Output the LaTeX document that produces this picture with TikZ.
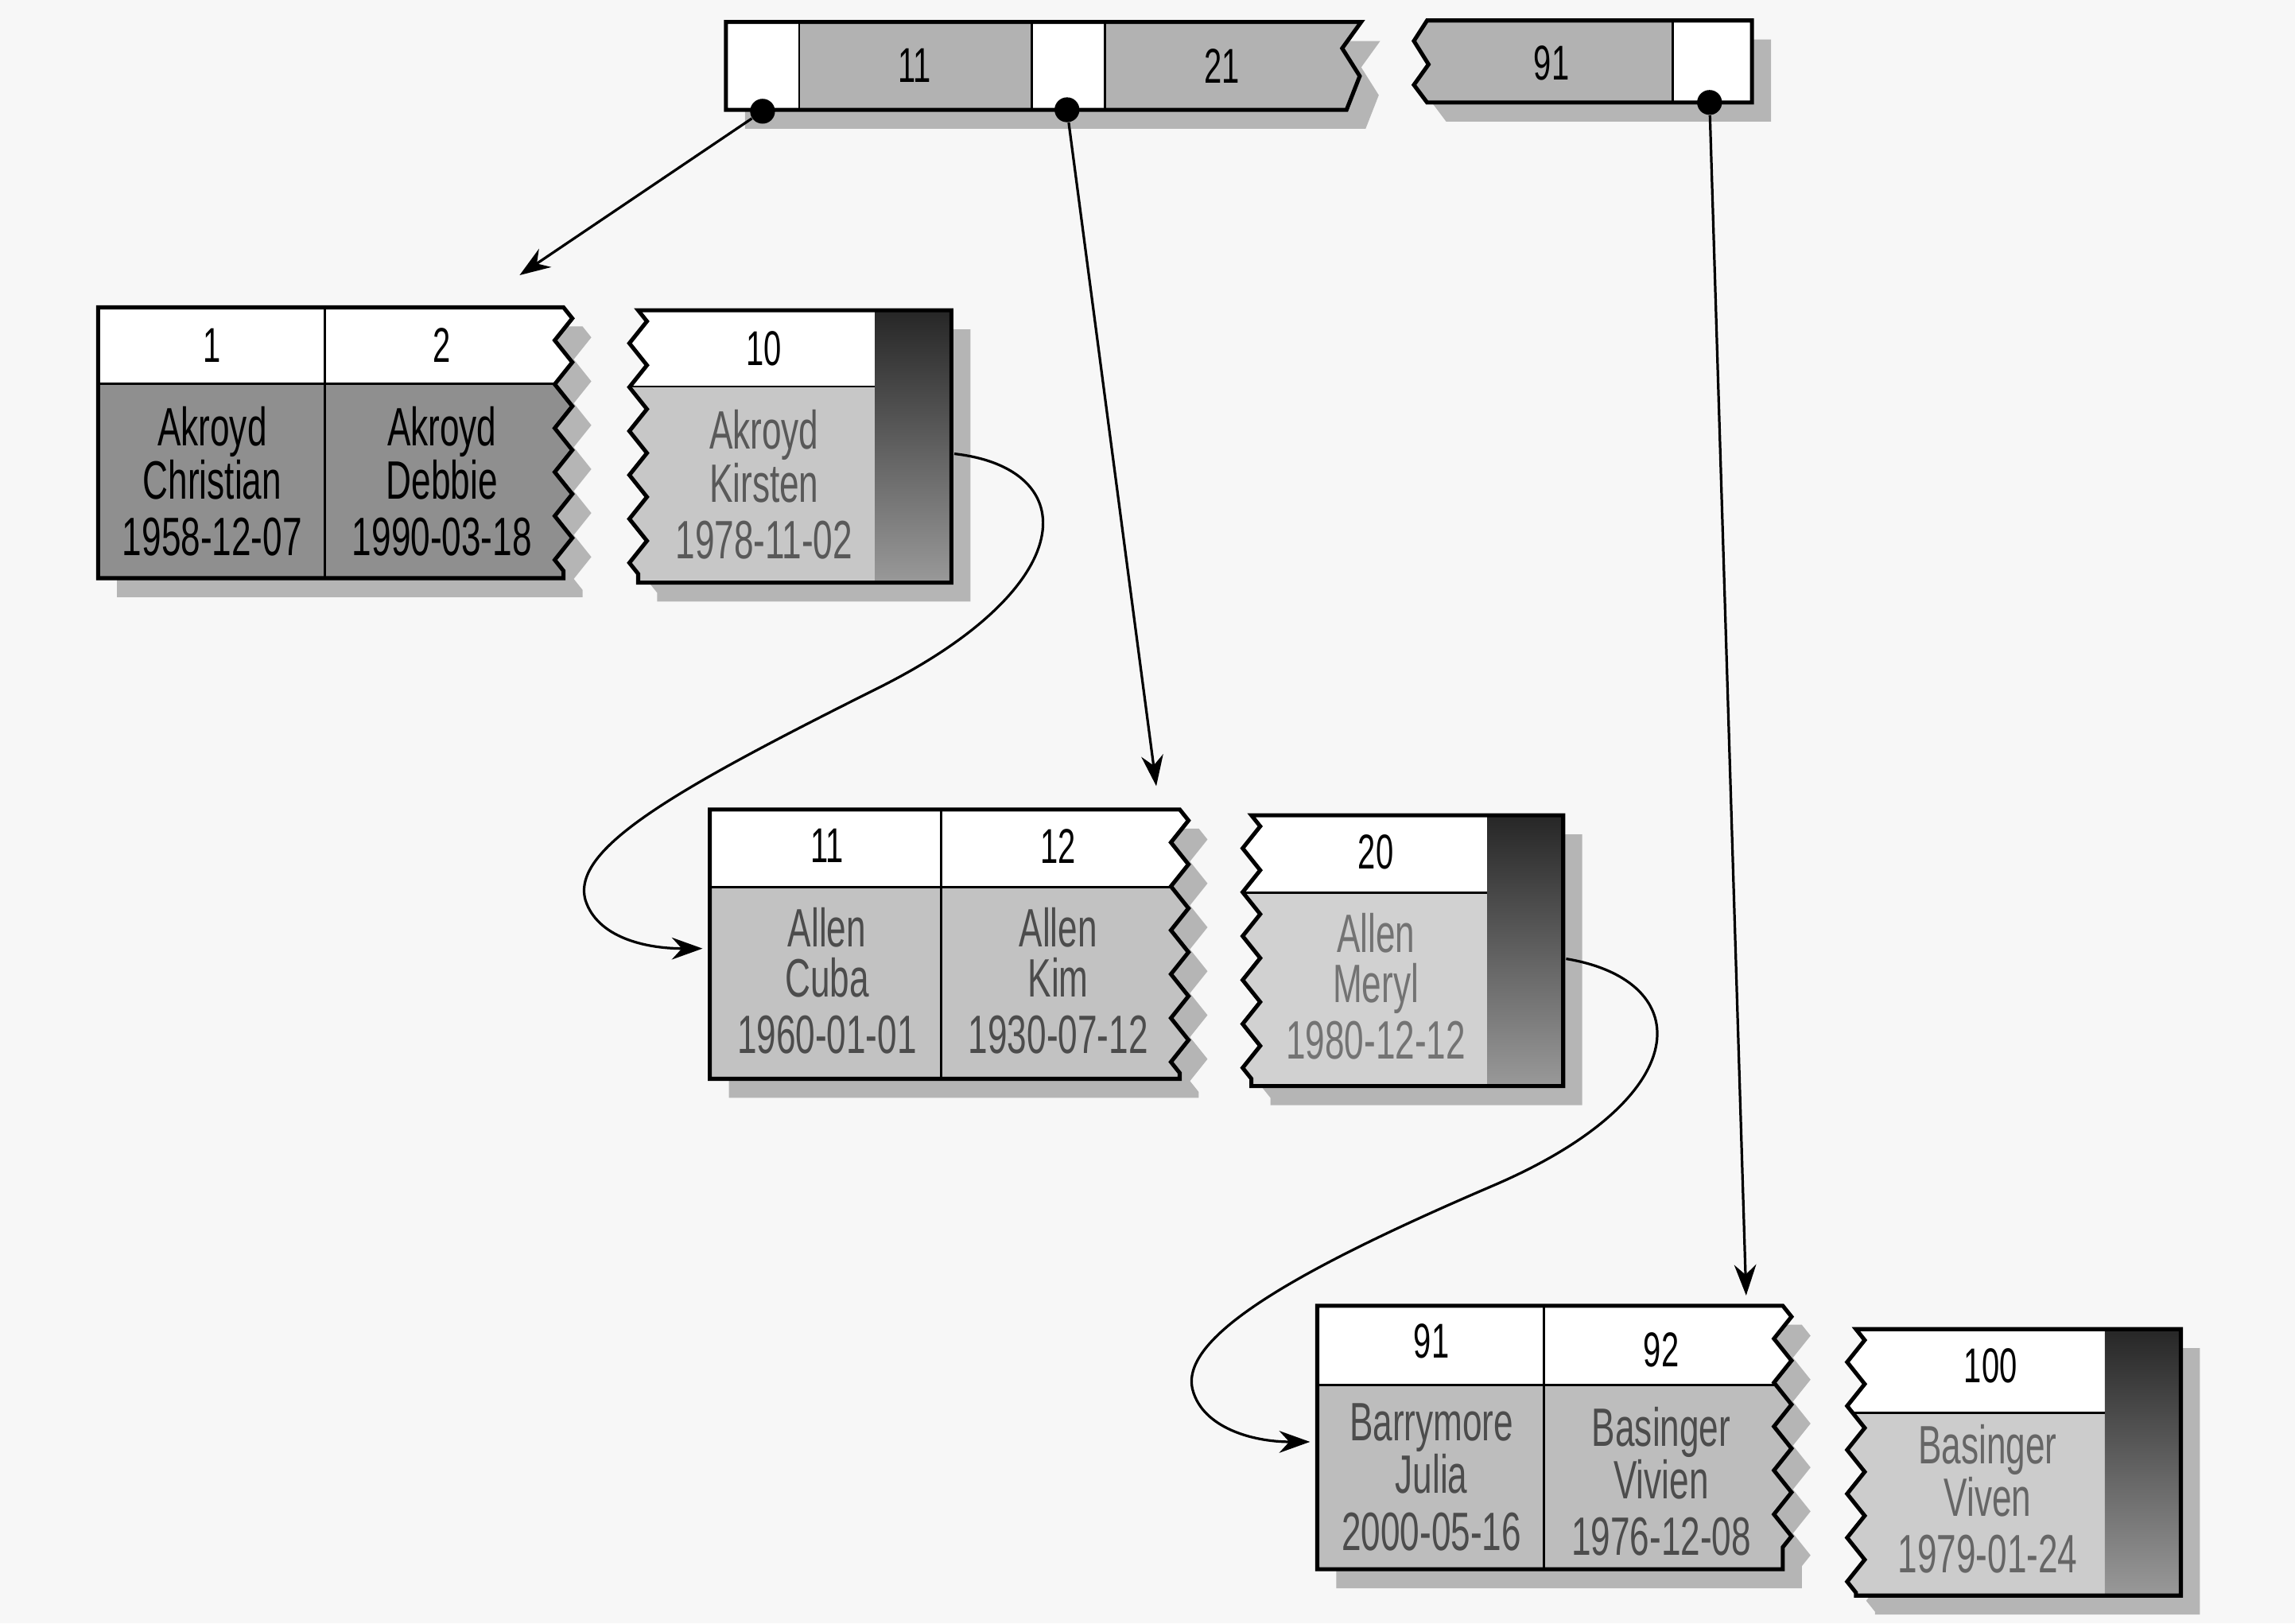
\documentclass[tikz,border=0pt]{standalone}
\usepackage{fontspec}
\setmainfont{Liberation Sans}[FakeStretch=0.65]
\usetikzlibrary{arrows.meta,decorations.pathmorphing,shadows}

\tikzstyle{arrow} = [line width=0.35mm,-{Stealth[length=4.2mm,width=3mm]}]
\tikzstyle{dot} = [circle,fill=black,inner sep=0pt,minimum size=3.4mm]
\tikzstyle{outline} = [line width=0.55mm,line join=miter]
\tikzstyle{divider} = [line width=0.3mm]
\tikzstyle{pageshadow} = [drop shadow={shadow xshift=2.6mm,shadow yshift=-2.6mm,fill=black!60,opacity=0.45}]
\tikzstyle{zz} = [decoration={zigzag,amplitude=1.2mm,segment length=6mm}]
\tikzstyle{key} = [font=\fontsize{19}{19}\selectfont]
\tikzstyle{row} = [align=center,font=\fontsize{21}{19.5}\selectfont]

% left half of a leaf page, torn on the right
% #1 x left, #2 x divider, #3 x zigzag, #4 top, #5 header line, #6 bottom, #7 fill
\newcommand{\leafleft}[7]{%
  \path[pageshadow,fill=#7] (#1,#4) -- (#3,#4) decorate[zz]{-- (#3,#6)} -- (#1,#6) -- cycle;
  \begin{scope}
    \clip (#1,#4) -- (#3,#4) decorate[zz]{-- (#3,#6)} -- (#1,#6) -- cycle;
    \fill[white] (#1,#4) rectangle (#3+20,#5);
    \draw[divider] (#1,#5) -- (#3+20,#5);
    \draw[divider] (#2,#4) -- (#2,#6);
  \end{scope}
  \draw[outline] (#1,#4) -- (#3,#4) decorate[zz]{-- (#3,#6)} -- (#1,#6) -- cycle;
}
% right half of a leaf page, torn on the left, dark pointer band
% #1 x zigzag, #2 x band, #3 x right, #4 top, #5 header line, #6 bottom, #7 fill
\newcommand{\leafright}[7]{%
  \path[pageshadow,fill=#7] (#3,#4) -- (#1,#4) decorate[zz]{-- (#1,#6)} -- (#3,#6) -- cycle;
  \begin{scope}
    \clip (#3,#4) -- (#1,#4) decorate[zz]{-- (#1,#6)} -- (#3,#6) -- cycle;
    \fill[white] (#1-20,#4) rectangle (#2,#5);
    \draw[divider] (#1-20,#5) -- (#2,#5);
    \shade[top color=black!85,bottom color=black!40] (#2,#4) rectangle (#3,#6);
  \end{scope}
  \draw[outline] (#3,#4) -- (#1,#4) decorate[zz]{-- (#1,#6)} -- (#3,#6) -- cycle;
}

\begin{document}
\begin{tikzpicture}[x=0.2mm,y=-0.2mm]
\useasboundingbox[fill=gray!6] (0,0) rectangle (1568,1109);

% root page
\path[pageshadow,fill=black!30] (496,15) -- (930,15) -- (917,33) -- (929,52) -- (920,75) -- (496,75) -- cycle;
\fill[white] (496,15) rectangle (546,75);
\fill[white] (705,15) rectangle (755,75);
\draw[divider] (546,15) -- (546,75);
\draw[divider] (705,15) -- (705,75);
\draw[divider] (755,15) -- (755,75);
\draw[outline] (496,15) -- (930,15) -- (917,33) -- (929,52) -- (920,75) -- (496,75) -- cycle;
\path[pageshadow,fill=black!30] (1197,14) -- (975,14) -- (966,28) -- (976,44) -- (966,58) -- (975,70) -- (1197,70) -- cycle;
\fill[white] (1143,14) rectangle (1197,70);
\draw[divider] (1143,14) -- (1143,70);
\draw[outline] (1197,14) -- (975,14) -- (966,28) -- (976,44) -- (966,58) -- (975,70) -- (1197,70) -- cycle;
\node[key] (n11) at (625,45) {11};
\node[key] (n21) at (835,45) {21};
\node[key] (n91) at (1060,43) {91};
\node[dot] (d1) at (521,76) {};
\node[dot] (d2) at (729,75) {};
\node[dot] (d3) at (1168,70) {};

% leaf pages
\leafleft{67}{222}{385}{210}{262}{395}{black!44}
\leafright{436}{598}{650}{212}{264}{398}{black!22}
\leafleft{485}{643}{806}{553}{606}{737}{black!24}
\leafright{855}{1016}{1068}{557}{610}{742}{black!18}
\leafleft{900}{1055}{1218}{892}{946}{1072}{black!26}
\leafright{1268}{1438}{1490}{908}{965}{1090}{black!20}

\node[key] (k1) at (145,236) {1};
\node[key] (k2) at (302,236) {2};
\node[key] (k10) at (522,238) {10};
\node[row,text=black] (r1) at (145,329) {Akroyd\\Christian\\[2.5pt]1958-12-07};
\node[row,text=black] (r2) at (302,329) {Akroyd\\Debbie\\[2.5pt]1990-03-18};
\node[row,text=black!65] (r10) at (522,331) {Akroyd\\Kirsten\\[2.5pt]1978-11-02};

\node[key] (k11) at (565,578) {11};
\node[key] (k12) at (723,578) {12};
\node[key] (k20) at (940,582) {20};
\node[row,text=black!70] (r11) at (565,670) {Allen\\Cuba\\[2.5pt]1960-01-01};
\node[row,text=black!70] (r12) at (723,670) {Allen\\Kim\\[2.5pt]1930-07-12};
\node[row,text=black!55] (r20) at (940,674) {Allen\\Meryl\\[2.5pt]1980-12-12};

\node[key] (k91) at (978,916) {91};
\node[key] (k92) at (1135,922) {92};
\node[key] (k100) at (1360,933) {100};
\node[row,text=black!70] (r91) at (978,1009) {Barrymore\\Julia\\[2.5pt]2000-05-16};
\node[row,text=black!70] (r92) at (1135,1012) {Basinger\\Vivien\\[2.5pt]1976-12-08};
\node[row,text=black!60] (r100) at (1358,1024) {Basinger\\Viven\\[2.5pt]1979-01-24};

% pointers
\coordinate (t1) at (355,188);
\coordinate (t2) at (790,537);
\coordinate (t3) at (1193,885);
\coordinate (o1) at (652,310);
\coordinate (i2) at (480,648);
\coordinate (o2) at (1070,655);
\coordinate (i3) at (895,985);
\draw[arrow] (d1) -- (t1);
\draw[arrow] (d2) -- (t2);
\draw[arrow] (d3) -- (t3);
\draw[arrow] (o1) .. controls (740,320) and (740,400) .. (600,470)
  .. controls (460,540) and (390,580) .. (400,615)
  .. controls (408,640) and (440,648) .. (i2);
\draw[arrow] (o2) .. controls (1160,670) and (1160,750) .. (1020,810)
  .. controls (880,870) and (805,915) .. (815,950)
  .. controls (822,975) and (855,985) .. (i3);
\end{tikzpicture}
\end{document}
